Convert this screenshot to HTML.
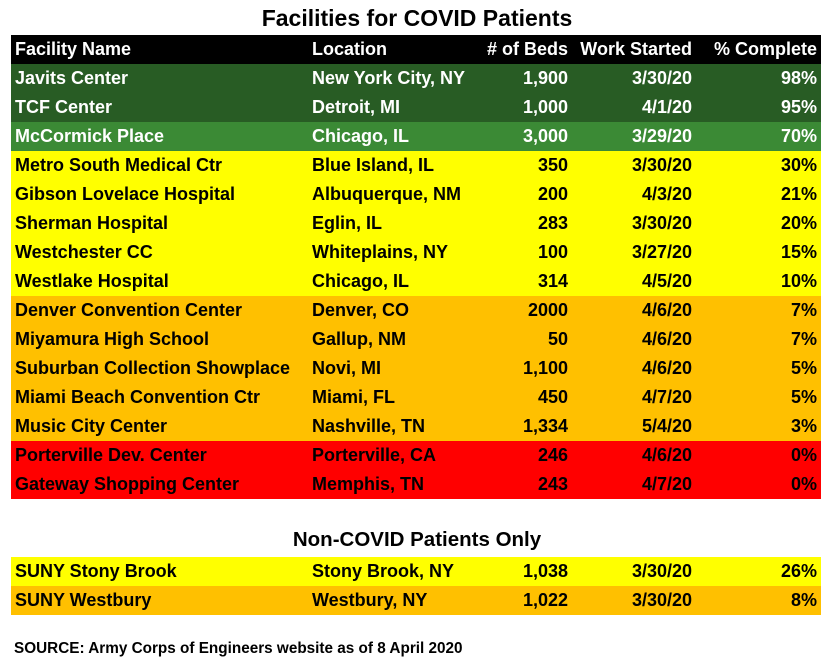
<!DOCTYPE html>
<html><head><meta charset="utf-8"><style>
body{margin:0;width:834px;height:665px;background:#fff;font-family:"Liberation Sans",sans-serif;font-weight:bold;position:relative;overflow:hidden}
.t{position:absolute;left:0;width:834px;text-align:center;color:#000}
table{position:absolute;left:11px;width:810px;border-collapse:collapse;table-layout:fixed}
td{height:29px;padding:0 4px;font-size:18px;white-space:nowrap;overflow:hidden;line-height:29px}
td.r{text-align:right}
.h td{background:#000;color:#fff}
.dg td{background:#285c24;color:#fff}
.lg td{background:#3b8a35;color:#fff}
.y td{background:#ffff00;color:#000}
.o td{background:#ffc000;color:#000}
.rd td{background:#ff0000;color:#000}
</style></head><body>
<div class="t" style="top:5px;font-size:23px">Facilities for COVID Patients</div>
<table style="top:35px">
<colgroup><col style="width:297px"><col style="width:165px"><col style="width:99px"><col style="width:124px"><col style="width:125px"></colgroup>
<tr class="h"><td>Facility Name</td><td>Location</td><td class="r"># of Beds</td><td class="r">Work Started</td><td class="r">% Complete</td></tr>
<tr class="dg"><td>Javits Center</td><td>New York City, NY</td><td class="r">1,900</td><td class="r">3/30/20</td><td class="r">98%</td></tr>
<tr class="dg"><td>TCF Center</td><td>Detroit, MI</td><td class="r">1,000</td><td class="r">4/1/20</td><td class="r">95%</td></tr>
<tr class="lg"><td>McCormick Place</td><td>Chicago, IL</td><td class="r">3,000</td><td class="r">3/29/20</td><td class="r">70%</td></tr>
<tr class="y"><td>Metro South Medical Ctr</td><td>Blue Island, IL</td><td class="r">350</td><td class="r">3/30/20</td><td class="r">30%</td></tr>
<tr class="y"><td>Gibson Lovelace Hospital</td><td>Albuquerque, NM</td><td class="r">200</td><td class="r">4/3/20</td><td class="r">21%</td></tr>
<tr class="y"><td>Sherman Hospital</td><td>Eglin, IL</td><td class="r">283</td><td class="r">3/30/20</td><td class="r">20%</td></tr>
<tr class="y"><td>Westchester CC</td><td>Whiteplains, NY</td><td class="r">100</td><td class="r">3/27/20</td><td class="r">15%</td></tr>
<tr class="y"><td>Westlake Hospital</td><td>Chicago, IL</td><td class="r">314</td><td class="r">4/5/20</td><td class="r">10%</td></tr>
<tr class="o"><td>Denver Convention Center</td><td>Denver, CO</td><td class="r">2000</td><td class="r">4/6/20</td><td class="r">7%</td></tr>
<tr class="o"><td>Miyamura High School</td><td>Gallup, NM</td><td class="r">50</td><td class="r">4/6/20</td><td class="r">7%</td></tr>
<tr class="o"><td>Suburban Collection Showplace</td><td>Novi, MI</td><td class="r">1,100</td><td class="r">4/6/20</td><td class="r">5%</td></tr>
<tr class="o"><td>Miami Beach Convention Ctr</td><td>Miami, FL</td><td class="r">450</td><td class="r">4/7/20</td><td class="r">5%</td></tr>
<tr class="o"><td>Music City Center</td><td>Nashville, TN</td><td class="r">1,334</td><td class="r">5/4/20</td><td class="r">3%</td></tr>
<tr class="rd"><td>Porterville Dev. Center</td><td>Porterville, CA</td><td class="r">246</td><td class="r">4/6/20</td><td class="r">0%</td></tr>
<tr class="rd"><td>Gateway Shopping Center</td><td>Memphis, TN</td><td class="r">243</td><td class="r">4/7/20</td><td class="r">0%</td></tr>
</table>
<div class="t" style="top:528px;font-size:20.5px">Non-COVID Patients Only</div>
<table style="top:557px">
<colgroup><col style="width:297px"><col style="width:165px"><col style="width:99px"><col style="width:124px"><col style="width:125px"></colgroup>
<tr class="y"><td>SUNY Stony Brook</td><td>Stony Brook, NY</td><td class="r">1,038</td><td class="r">3/30/20</td><td class="r">26%</td></tr>
<tr class="o"><td>SUNY Westbury</td><td>Westbury, NY</td><td class="r">1,022</td><td class="r">3/30/20</td><td class="r">8%</td></tr>
</table>
<div style="position:absolute;left:14px;top:640px;font-size:15.3px">SOURCE: Army Corps of Engineers website as of 8 April 2020</div>
</body></html>
